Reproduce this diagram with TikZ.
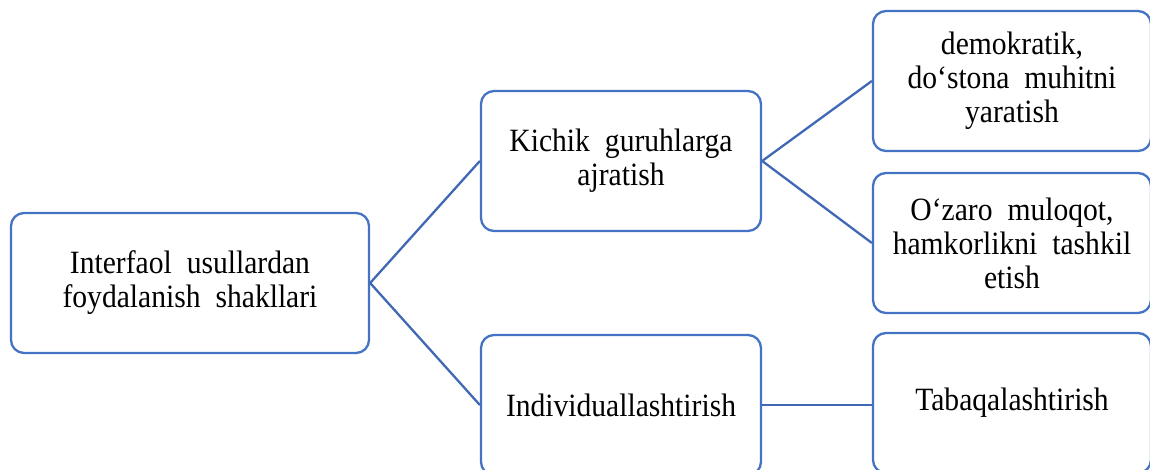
\documentclass[tikz,border=0pt]{standalone}
\usepackage{fontspec}
\setmainfont{Liberation Serif}[FakeStretch=0.91]
\definecolor{boxblue}{HTML}{4472C4}
\definecolor{linkblue}{HTML}{4068B4}
\newcommand\boxfont{\fontsize{32.5}{34}\selectfont\spaceskip=15pt plus 2pt\relax}
\begin{document}
\begin{tikzpicture}[x=1pt,y=1pt,
  box/.style={draw=boxblue, line width=2.3pt, rounded corners=13pt, fill=white,
    align=center, inner sep=0pt, minimum height=140pt, font=\boxfont},
  link/.style={draw=linkblue, line width=2.3pt}]
\useasboundingbox (0,0) rectangle (1150,470);
\node[box, minimum width=358pt] (A) at (190,187) {Interfaol usullardan\\foydalanish shakllari};
\node[box, minimum width=280pt] (B) at (621,309) {Kichik guruhlarga\\ajratish};
\node[box, minimum width=278pt] (C) at (1012,389) {demokratik,\\do‘stona muhitni\\yaratish};
\node[box, minimum width=278pt] (D) at (1012,227) {O‘zaro muloqot,\\hamkorlikni tashkil\\etish};
\node[box, minimum width=280pt] (E) at (621,65) {Individuallashtirish};
\node[box, minimum width=278pt] (F) at (1012,67) {Tabaqalashtirish};
\draw[link] (A.east) -- (B.west);
\draw[link] (A.east) -- (E.west);
\draw[link] (B.east) -- (C.west);
\draw[link] (B.east) -- (D.west);
\draw[link] (E.east) -- (F.west |- E.east);
\end{tikzpicture}
\end{document}
